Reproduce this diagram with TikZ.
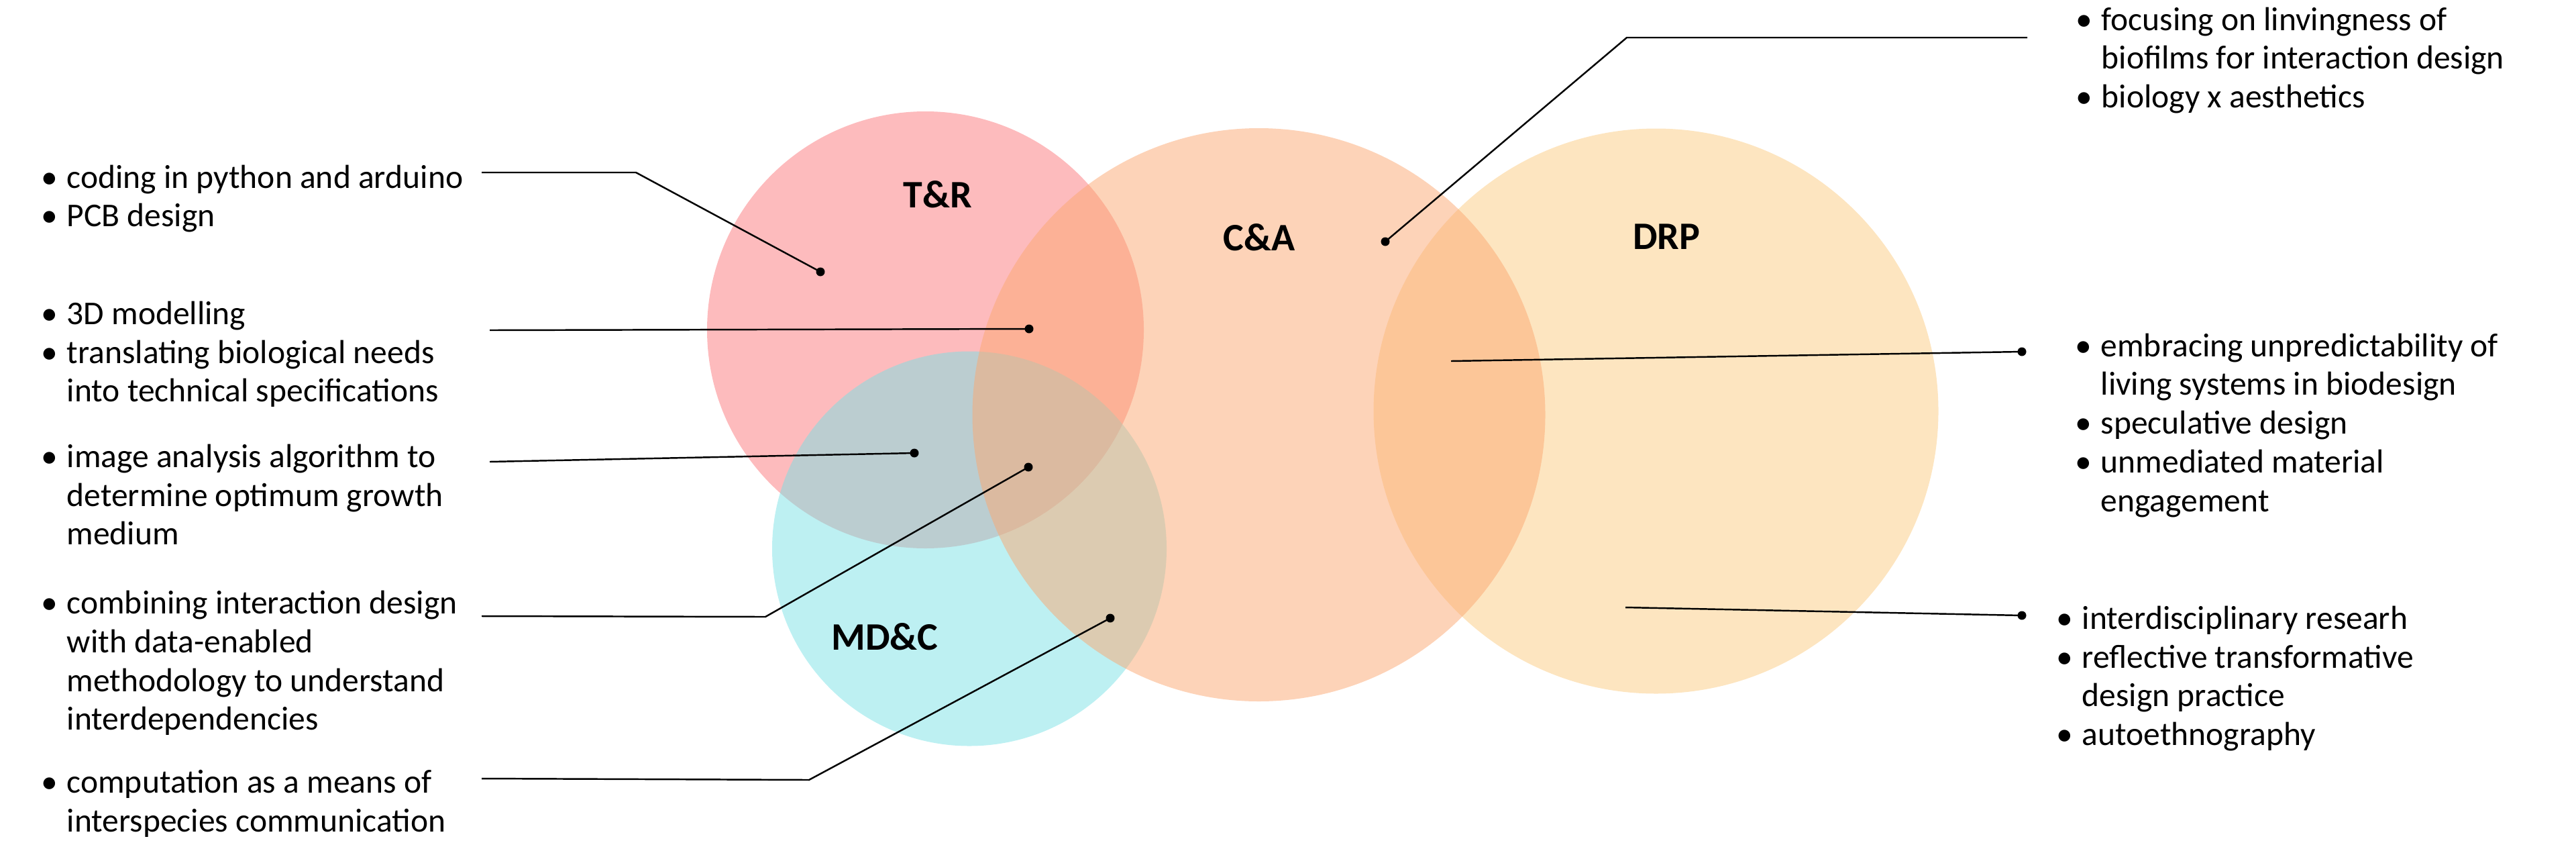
\documentclass[tikz,border=0pt]{standalone}
\usepackage{fontspec}
\setmainfont{Carlito}
\usepackage{xcolor}
\usetikzlibrary{positioning}
\definecolor{trpink}{RGB}{251,119,123}
\definecolor{capeach}{RGB}{251,167,113}
\definecolor{drpsand}{RGB}{251,203,129}
\definecolor{mdccyan}{RGB}{123,225,229}
\newcommand{\bul}{\makebox[0.38cm][l]{\textbullet}}
\newcommand{\ind}{\hspace*{0.38cm}}

\begin{document}
\begin{tikzpicture}[
    blob/.style={fill opacity=0.5},
    lbl/.style={font=\fontsize{16.5}{20}\selectfont\bfseries, inner sep=0pt},
    txt/.style={anchor=base west, inner sep=0pt, font=\fontsize{14.1}{16.5}\selectfont},
    dot/.style={circle, fill=black, inner sep=0pt, minimum size=0.13cm},
    conn/.style={line width=0.7pt, black},
]
    \useasboundingbox (0,0) rectangle (38.40,-12.61);

    % Circles
    \fill[blob, trpink] (13.795,-4.915) circle (3.255);
    \fill[blob, mdccyan] (14.45,-8.175) circle (2.94);
    \fill[blob, drpsand] (24.685,-6.125) circle (4.21);
    \fill[blob, capeach] (18.765,-6.18) circle (4.27);

    % Labels
    \node[lbl] (tr) at (13.98,-2.90) {T\&R};
    \node[lbl] (ca) at (18.77,-3.54) {C\&A};
    \node[lbl] (drp) at (24.84,-3.53) {DRP};
    \node[lbl] (mdc) at (13.19,-9.49) {MD\&C};

    % Left texts
    \node[txt] (tcode) at (0.61,-2.80) {\begin{tabular}[t]{@{}l@{}}\bul coding in python and arduino\\ \bul PCB design\end{tabular}};
    \node[txt] (tmodel) at (0.61,-4.83) {\begin{tabular}[t]{@{}l@{}}\bul 3D modelling\\ \bul translating biological needs\\ \ind into technical specifications\end{tabular}};
    \node[txt] (timage) at (0.61,-6.96) {\begin{tabular}[t]{@{}l@{}}\bul image analysis algorithm to\\ \ind determine optimum growth\\ \ind medium\end{tabular}};
    \node[txt] (tcomb) at (0.61,-9.14) {\begin{tabular}[t]{@{}l@{}}\bul combining interaction design\\ \ind with data-enabled\\ \ind methodology to understand\\ \ind interdependencies\end{tabular}};
    \node[txt] (tcomp) at (0.61,-11.81) {\begin{tabular}[t]{@{}l@{}}\bul computation as a means of\\ \ind interspecies communication\end{tabular}};

    % Right texts
    \node[txt] (tliving) at (30.94,-0.45) {\begin{tabular}[t]{@{}l@{}}\bul focusing on linvingness of\\ \ind biofilms for interaction design\\ \bul biology x aesthetics\end{tabular}};
    \node[txt] (tembr) at (30.93,-5.31) {\begin{tabular}[t]{@{}l@{}}\bul embracing unpredictability of\\ \ind living systems in biodesign\\ \bul speculative design\\ \bul unmediated material\\ \ind engagement\end{tabular}};
    \node[txt] (tinter) at (30.65,-9.37) {\begin{tabular}[t]{@{}l@{}}\bul interdisciplinary researh\\ \bul reflective transformative\\ \ind design practice\\ \bul autoethnography\end{tabular}};

    % Dots
    \node[dot] (d1) at (12.23,-4.05) {};
    \node[dot] (d2) at (15.34,-4.90) {};
    \node[dot] (d3) at (13.63,-6.75) {};
    \node[dot] (d4) at (15.33,-6.96) {};
    \node[dot] (d5) at (16.55,-9.21) {};
    \node[dot] (d6) at (20.65,-3.60) {};
    \node[dot] (d7) at (30.14,-5.24) {};
    \node[dot] (d8) at (30.14,-9.17) {};

    % Connector ends
    \coordinate (s1) at (7.18,-2.57);
    \coordinate (b1) at (9.48,-2.57);
    \coordinate (s2) at (7.30,-4.92);
    \coordinate (s3) at (7.30,-6.88);
    \coordinate (s4) at (7.18,-9.18);
    \coordinate (b4) at (11.41,-9.19);
    \coordinate (s5) at (7.18,-11.60);
    \coordinate (b5) at (12.06,-11.62);
    \coordinate (b6) at (24.25,-0.56);
    \coordinate (s6) at (30.22,-0.56);
    \coordinate (s7) at (21.63,-5.38);
    \coordinate (s8) at (24.23,-9.05);

    % Connectors
    \draw[conn] (s1) -- (b1) -- (d1.center);
    \draw[conn] (s2) -- (d2.center);
    \draw[conn] (s3) -- (d3.center);
    \draw[conn] (s4) -- (b4) -- (d4.center);
    \draw[conn] (s5) -- (b5) -- (d5.center);
    \draw[conn] (d6.center) -- (b6) -- (s6);
    \draw[conn] (s7) -- (d7.center);
    \draw[conn] (s8) -- (d8.center);
\end{tikzpicture}
\end{document}
